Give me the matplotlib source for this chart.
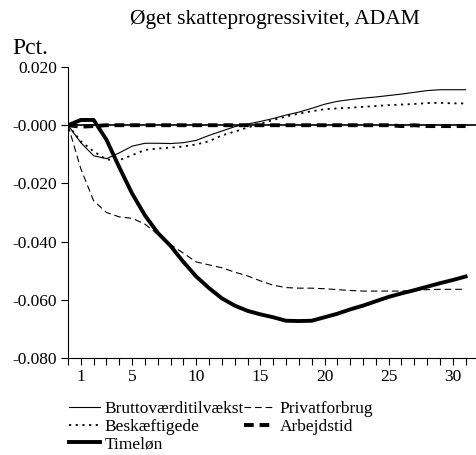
import matplotlib
matplotlib.use('Agg')
import matplotlib.pyplot as plt
import numpy as np

# periods 0..31 (0 = baseline)
periods = np.arange(0, 32)

brutto = [0, -0.006, -0.0105, -0.0115, -0.0095, -0.0072, -0.0062, -0.0062, -0.0063, -0.006,
          -0.0052, -0.0035, -0.002, -0.0005, 0.0004, 0.0013, 0.0023, 0.0035, 0.0045, 0.0058,
          0.0072, 0.0082, 0.0088, 0.0093, 0.0097, 0.0102, 0.0107, 0.0113, 0.0119, 0.0122,
          0.0122, 0.0122]
privat = [0, -0.015, -0.026, -0.030, -0.0315, -0.032, -0.034, -0.0375, -0.041, -0.044,
          -0.047, -0.048, -0.049, -0.0505, -0.0518, -0.0535, -0.055, -0.0558, -0.056, -0.056,
          -0.0562, -0.0565, -0.0568, -0.057, -0.057, -0.057, -0.057, -0.0568, -0.0565, -0.0564,
          -0.0564, -0.0564]
beskaeft = [0, -0.0055, -0.009, -0.0118, -0.012, -0.0103, -0.0085, -0.008, -0.0077, -0.0073,
            -0.0066, -0.0055, -0.0035, -0.0022, -0.0008, 0.0005, 0.0018, 0.003, 0.004, 0.0048,
            0.0055, 0.0058, 0.006, 0.0063, 0.0066, 0.0069, 0.0071, 0.0073, 0.0076, 0.0077,
            0.0075, 0.0075]
arbejdstid = [0, -0.0005, -0.0003, 0, 0, 0, 0, 0, 0, 0,
              0, 0, 0, 0, 0, 0, 0, 0, 0, 0,
              0, 0, 0, 0, 0, 0, -0.0003, 0, -0.0003, -0.0003,
              -0.0003, -0.0003]
timelon = [0, 0.0018, 0.0018, -0.005, -0.0145, -0.0235, -0.031, -0.037, -0.0415, -0.047,
           -0.052, -0.056, -0.0595, -0.062, -0.0638, -0.065, -0.066, -0.0672, -0.0673, -0.0672,
           -0.066, -0.0648, -0.0633, -0.062, -0.0605, -0.059, -0.0578, -0.0567, -0.0555, -0.0543,
           -0.0532, -0.052]

yticks = [0.02, 0.0, -0.02, -0.04, -0.06, -0.08]
ytick_labels = ['0.020', '-0.000', '-0.020', '-0.040', '-0.060', '-0.080']
xlabel_pos = [1, 5, 10, 15, 20, 25, 30]

plt.rcParams['font.family'] = 'Liberation Serif'

fig = plt.figure(figsize=(4.77, 4.55), dpi=100)
ax = fig.add_axes([0.1426, 0.2132, 0.855, 0.6395])

ax.axhline(0, color='black', lw=1.2, zorder=1)
l1, = ax.plot(periods, brutto, color='black', lw=0.8, label='Bruttoværditilvækst')
l2, = ax.plot(periods, privat, color='black', lw=0.8, dashes=(6, 3.5), label='Privatforbrug')
l3, = ax.plot(periods, beskaeft, color='black', lw=1.3, dashes=(1.2, 2.5), label='Beskæftigede')
l4, = ax.plot(periods, arbejdstid, color='black', lw=2.8, dashes=(2.5, 1.5), label='Arbejdstid')
l5, = ax.plot(periods, timelon, color='black', lw=2.8, label='Timeløn')

ax.set_xlim(0, 31.8)
ax.set_ylim(-0.08, 0.02)
ax.set_yticks(yticks)
ax.set_yticklabels(ytick_labels)
ax.set_xticks(periods)
ax.set_xticklabels([str(p) if p in xlabel_pos else '' for p in periods])
ax.tick_params(labelsize=12.5, length=5, width=0.8, direction='out', pad=3)
ax.spines['top'].set_visible(False)
ax.spines['right'].set_visible(False)

fig.text(0.576, 0.957, 'Øget skatteprogressivitet, ADAM', fontsize=15.5, ha='center', va='center')
fig.text(0.025, 0.893, 'Pct.', fontsize=17, ha='left', va='center')

fig.legend([l1, l3, l5, l2, l4],
           ['Bruttoværditilvækst', 'Beskæftigede', 'Timeløn', 'Privatforbrug', 'Arbejdstid'],
           ncol=2, loc='upper left', bbox_to_anchor=(0.145, 0.118), frameon=False,
           fontsize=12.5, handlelength=1.75, handletextpad=0.3, columnspacing=0.0,
           labelspacing=0.08, borderpad=0, borderaxespad=0)

fig.savefig('out.png', dpi=100)
